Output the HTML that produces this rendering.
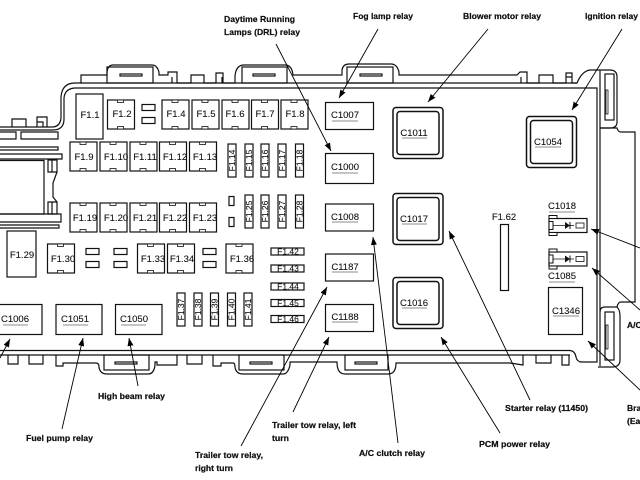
<!DOCTYPE html>
<html><head><meta charset="utf-8"><style>
html,body{margin:0;padding:0;background:#fff;width:640px;height:480px;overflow:hidden}
svg{display:block;filter:blur(.35px)}
text{font-family:"Liberation Sans",sans-serif;fill:#111}
.l{font-size:8.5px;font-weight:bold;fill:#000;stroke:#000;stroke-width:.2}
.f{font-size:9.5px;text-anchor:middle;stroke:#111;stroke-width:.1}
.v{font-size:8.5px;text-anchor:middle;stroke:#111;stroke-width:.1}
.c{font-size:9.5px;text-anchor:middle;stroke:#111;stroke-width:.1}
.s{fill:none;stroke:#111;stroke-width:1.2}
.a{fill:none;stroke:#000;stroke-width:.9;marker-end:url(#ah)}
.u{stroke:#666;stroke-width:.8}
</style></head><body>
<svg width="640" height="480" viewBox="0 0 640 480" xmlns="http://www.w3.org/2000/svg">
<defs>
<marker id="ah" markerUnits="userSpaceOnUse" markerWidth="9" markerHeight="6" refX="8" refY="3" orient="auto"><path d="M0 0L8 3L0 6Z" fill="#000"/></marker>
<g id="fu"><rect x="0" y="0" width="27" height="29" fill="#fff" stroke="#111" stroke-width="1.2"/><rect x="10" y="0" width="6" height="2.500" fill="#fff" stroke="#111" stroke-width=".8"/><rect x="10" y="26.500" width="6" height="2.500" fill="#fff" stroke="#111" stroke-width=".8"/></g>
<g id="sm"><rect x="0" y="0" width="13" height="6" fill="#fff" stroke="#111" stroke-width="1.2"/><rect x="0" y="13" width="13" height="6" fill="#fff" stroke="#111" stroke-width="1.2"/></g>
<g id="ry"><rect x="0.500" y="0.500" width="50" height="51" rx="3" fill="#fff" stroke="#111" stroke-width="1.5"/><rect x="4.500" y="4.500" width="42" height="43" rx="3" fill="#fff" stroke="#111" stroke-width="1.5"/></g>
<g id="dio"><rect x="0" y="0" width="38" height="14" fill="#fff" stroke="#111" stroke-width="1.2"/><rect x="0" y="-3" width="8" height="3" fill="#fff" stroke="#111"/><rect x="0" y="14" width="8" height="3" fill="#fff" stroke="#111"/><rect x="0" y="3" width="4" height="8" fill="#fff" stroke="#111"/><path d="M4 7H25" stroke="#111" stroke-width=".7"/><path d="M16 3.500V10.500L21 7Z" fill="#111"/><path d="M21 3.500V10.500" stroke="#111"/><rect x="27" y="4.500" width="8" height="5" fill="#fff" stroke="#111" stroke-width=".8"/></g>
</defs>

<!-- housing -->
<g class="s">
<path d="M0 127H52Q60 127 61 118V97Q62 83 75 83H81V75H107V72Q108 65 113 65H152Q157 65 159 72V75H168V72H177V83H191V75H204V83H216V73H223V83H235V76Q236 65 244 65H285Q292 65 293 75H342V70Q343 64 349 64H391Q397 64 399 72V75H517L520 72H527V83H539V75H553V83H566V73H572V83H577Q582 71 590 70H610Q617 70 617 77V122Q617 128 610 128H600"/>
<path d="M0 130H53Q64 130 64 119V98Q65 88 76 88H597V362H582Q577 362 576 357Q575 351 570 350.500H64"/>
<path d="M81 83H577" />
<path d="M600 70V366"/>
<path d="M600 128H617Q618 132 621 132H635V302H621Q618 302 617 307H605Q600 307 600 312"/>
<path d="M617 307Q620 310 620 316V360Q620 367 612 367H598"/>
<path d="M0 350.500H64M0 355H570"/>
<rect x="605" y="74" width="9" height="46"/><rect x="606" y="90" width="2" height="24" stroke-width=".8"/>
<rect x="605" y="312" width="9" height="48"/><rect x="606" y="325" width="2" height="24" stroke-width=".8"/>
<!-- top tabs -->
<rect x="107" y="67" width="46" height="16"/><rect x="120" y="74" width="22" height="2"/>
<rect x="242" y="67" width="45" height="16"/><rect x="253" y="74" width="22" height="2"/>
<rect x="347" y="67" width="46" height="16"/><rect x="360" y="74" width="22" height="2"/>
<path d="M172 77V83M222 77V83M521 77V83M566 77H572"/>
<!-- left ledges -->
<path d="M12 127V119H26V127M37 127V117H47V127M37 122H43V127"/>
<path d="M0 132H16V139H0M21 132H58V139H21Z"/>
<path d="M0 147H58V150H0"/>
<path d="M0 154H62V159H0"/>
<path d="M0 160.500H44V214H0"/>
<path d="M48 160H57V172H48ZM52 160V172M48 202H57V214H48ZM52 202V214"/>
<path d="M57 172L53 183V197L57 202"/>
<path d="M0 214H61V222H0"/>
<path d="M0 225H59V228H0"/>
<!-- bottom tabs -->
<path d="M8 355V364H18V355M29 355V364H43V355M56 355V366H63V363H96Q99 363 99 367Q100 374 107 374H148Q154 374 155 365V362H157V365H177V355M187 355V364H202V355M213 355V366H221V363H233Q235 363 235 367Q236 374 243 374H283Q288 374 290 365V362H337Q337 374 345 374H388Q396 374 396 363H510L523 365V355M536 355V363H551V355M562 355V365H569V355"/>
<rect x="104" y="355" width="45" height="15"/><rect x="115" y="362" width="22" height="2"/>
<rect x="239" y="355" width="45" height="15"/><rect x="250" y="362" width="22" height="2"/>
<rect x="345" y="355" width="43" height="15"/><rect x="355" y="362" width="22" height="2"/>
</g>

<!-- big fuses top row -->
<g class="s"><rect x="76" y="94" width="27" height="45" fill="#fff"/><rect x="7" y="231" width="29" height="46" fill="#fff"/><rect x="500.500" y="224.500" width="8" height="66" fill="#fff"/></g>
<text class="f" x="90" y="118">F1.1</text>
<text class="f" x="22" y="258">F1.29</text>
<text class="f" x="504" y="220">F1.62</text>

<use href="#fu" x="107.500" y="100"/><text class="f" x="122" y="117">F1.2</text>
<use href="#sm" x="142" y="104.500"/>
<use href="#fu" x="162" y="100"/><text class="f" x="176" y="117">F1.4</text>
<use href="#fu" x="192" y="100"/><text class="f" x="206" y="117">F1.5</text>
<use href="#fu" x="222" y="100"/><text class="f" x="235" y="117">F1.6</text>
<use href="#fu" x="251.500" y="100"/><text class="f" x="265" y="117">F1.7</text>
<use href="#fu" x="281" y="100"/><text class="f" x="295" y="117">F1.8</text>

<use href="#fu" x="70" y="142"/><text class="f" x="84" y="160">F1.9</text>
<use href="#fu" x="100" y="142"/><text class="f" x="116" y="160">F1.10</text>
<use href="#fu" x="130" y="142"/><text class="f" x="145" y="160">F1.11</text>
<use href="#fu" x="159.500" y="142"/><text class="f" x="175" y="160">F1.12</text>
<use href="#fu" x="189.500" y="142"/><text class="f" x="205" y="160">F1.13</text>

<use href="#fu" x="70" y="203"/><text class="f" x="85" y="221">F1.19</text>
<use href="#fu" x="100" y="203"/><text class="f" x="116" y="221">F1.20</text>
<use href="#fu" x="130" y="203"/><text class="f" x="145" y="221">F1.21</text>
<use href="#fu" x="159.500" y="203"/><text class="f" x="175" y="221">F1.22</text>
<use href="#fu" x="189.500" y="203"/><text class="f" x="205" y="221">F1.23</text>

<use href="#fu" x="47.500" y="244"/><text class="f" x="63" y="262">F1.30</text>
<use href="#sm" x="86" y="248.500"/><use href="#sm" x="114" y="248.500"/>
<use href="#fu" x="137.500" y="244"/><text class="f" x="153" y="262">F1.33</text>
<use href="#fu" x="167.500" y="244"/><text class="f" x="182" y="262">F1.34</text>
<use href="#sm" x="203" y="248.500"/>
<use href="#fu" x="226" y="244"/><text class="f" x="242" y="262">F1.36</text>

<!-- vertical fuses -->
<g class="s">
<rect x="228" y="144" width="8" height="33"/><rect x="245" y="144" width="8" height="33"/><rect x="261" y="144" width="8" height="33"/><rect x="278" y="144" width="8" height="33"/><rect x="295.500" y="144" width="8" height="33"/>
<rect x="245" y="195" width="8" height="33"/><rect x="261" y="195" width="8" height="33"/><rect x="278" y="195" width="8" height="33"/><rect x="295.500" y="195" width="8" height="33"/>
<rect x="229" y="196.500" width="5" height="9"/><rect x="229" y="217.500" width="5" height="9"/>
<rect x="177" y="293" width="8" height="33"/><rect x="194" y="293" width="8" height="33"/><rect x="210.500" y="293" width="8" height="33"/><rect x="227.500" y="293" width="8" height="33"/><rect x="244" y="293" width="8" height="33"/>
<rect x="271" y="248" width="33" height="7"/><rect x="271" y="265" width="33" height="7"/><rect x="271" y="283" width="33" height="7"/><rect x="271" y="299.500" width="33" height="7"/><rect x="271" y="315.500" width="33" height="7"/>
</g>
<g class="v">
<text transform="translate(235,160.500) rotate(-90)">F1.14</text>
<text transform="translate(252,160.500) rotate(-90)">F1.15</text>
<text transform="translate(268,160.500) rotate(-90)">F1.16</text>
<text transform="translate(285,160.500) rotate(-90)">F1.17</text>
<text transform="translate(302.500,160.500) rotate(-90)">F1.18</text>
<text transform="translate(252,211.500) rotate(-90)">F1.25</text>
<text transform="translate(268,211.500) rotate(-90)">F1.26</text>
<text transform="translate(285,211.500) rotate(-90)">F1.27</text>
<text transform="translate(302.500,211.500) rotate(-90)">F1.28</text>
<text transform="translate(184,309.500) rotate(-90)">F1.37</text>
<text transform="translate(201,309.500) rotate(-90)">F1.38</text>
<text transform="translate(217.500,309.500) rotate(-90)">F1.39</text>
<text transform="translate(234.500,309.500) rotate(-90)">F1.40</text>
<text transform="translate(251,309.500) rotate(-90)">F1.41</text>
<text x="288" y="254.500">F1.42</text>
<text x="288" y="271.500">F1.43</text>
<text x="288" y="289.500">F1.44</text>
<text x="288" y="306">F1.45</text>
<text x="288" y="322">F1.46</text>
</g>

<!-- connectors -->
<g class="s">
<rect x="-2" y="304.500" width="44" height="30" fill="#fff"/><rect x="56" y="304.500" width="46" height="30" fill="#fff"/><rect x="115.500" y="304.500" width="46.500" height="30" fill="#fff"/>
<rect x="325.500" y="102.500" width="48" height="27" fill="#fff"/><rect x="325.500" y="153.500" width="48" height="30" fill="#fff"/><rect x="325.500" y="204" width="48" height="27" fill="#fff"/><rect x="325.500" y="254" width="48" height="27" fill="#fff"/><rect x="325.500" y="304.500" width="48" height="27" fill="#fff"/>
<rect x="548.500" y="287.500" width="34" height="47" fill="#fff"/>
</g>
<use href="#ry" x="392.500" y="107"/><use href="#ry" x="392.500" y="193"/><use href="#ry" x="392.500" y="277"/><use href="#ry" x="526" y="116"/>
<use href="#dio" x="549" y="218.500"/><use href="#dio" x="549" y="252"/>

<g class="c">
<text x="15" y="322">C1006</text><text x="75" y="322">C1051</text><text x="134" y="322">C1050</text>
<text x="345" y="118">C1007</text><text x="345" y="170">C1000</text><text x="345" y="220">C1008</text><text x="345" y="270">C1187</text><text x="345" y="320">C1188</text>
<text x="414" y="136">C1011</text><text x="414" y="222">C1017</text><text x="414" y="306">C1016</text><text x="548" y="145">C1054</text>
<text x="562" y="209">C1018</text><text x="562" y="279">C1085</text><text x="566" y="314">C1346</text>
</g>
<g class="u">
<path d="M3 325H28M63 325H88M121 325H146M332 121H358M332 173H358M332 222H358M332 272H358M332 322H358M402 138H427M402 224H427M402 308H427M535 147H561M549 212H575M549 282H575M553 316H579"/>
</g>

<!-- arrows -->
<path class="a" d="M378 29L339 98"/>
<path class="a" d="M488 29L428 102"/>
<path class="a" d="M622 29L572 110"/>
<path class="a" d="M276 44L331 151"/>
<path class="a" d="M640 248L591 229"/>
<path class="a" d="M640 310L592 268"/>
<path class="a" d="M640 390L588 341"/>
<path class="a" d="M530 400L449 231"/>
<path class="a" d="M500 433L441 337"/>
<path class="a" d="M398 443L373 237"/>
<path class="a" d="M241 446L327 287"/>
<path class="a" d="M293 412L329 337"/>
<path class="a" d="M138 386L129 338"/>
<path class="a" d="M62 429L83 338"/>
<path class="a" d="M0 358L10 339"/>

<!-- labels -->
<g class="l">
<text x="224" y="22" textLength="71" lengthAdjust="spacingAndGlyphs">Daytime Running</text>
<text x="224" y="35" textLength="76" lengthAdjust="spacingAndGlyphs">Lamps (DRL) relay</text>
<text x="353" y="19" textLength="60" lengthAdjust="spacingAndGlyphs">Fog lamp relay</text>
<text x="463" y="19" textLength="78" lengthAdjust="spacingAndGlyphs">Blower motor relay</text>
<text x="585" y="19" textLength="53" lengthAdjust="spacingAndGlyphs">Ignition relay</text>
<text x="98" y="399" textLength="67" lengthAdjust="spacingAndGlyphs">High beam relay</text>
<text x="26" y="441" textLength="67" lengthAdjust="spacingAndGlyphs">Fuel pump relay</text>
<text x="195" y="458" textLength="68" lengthAdjust="spacingAndGlyphs">Trailer tow relay,</text>
<text x="195" y="471" textLength="38" lengthAdjust="spacingAndGlyphs">right turn</text>
<text x="272" y="428" textLength="84" lengthAdjust="spacingAndGlyphs">Trailer tow relay, left</text>
<text x="272" y="441" textLength="17" lengthAdjust="spacingAndGlyphs">turn</text>
<text x="359" y="456" textLength="66" lengthAdjust="spacingAndGlyphs">A/C clutch relay</text>
<text x="479" y="447" textLength="71" lengthAdjust="spacingAndGlyphs">PCM power relay</text>
<text x="505" y="411" textLength="83" lengthAdjust="spacingAndGlyphs">Starter relay (11450)</text>
<text x="627" y="411">Bra</text>
<text x="627" y="424">(Ea</text>
<text x="627" y="328">A/C</text>
</g>
</svg>
</body></html>
